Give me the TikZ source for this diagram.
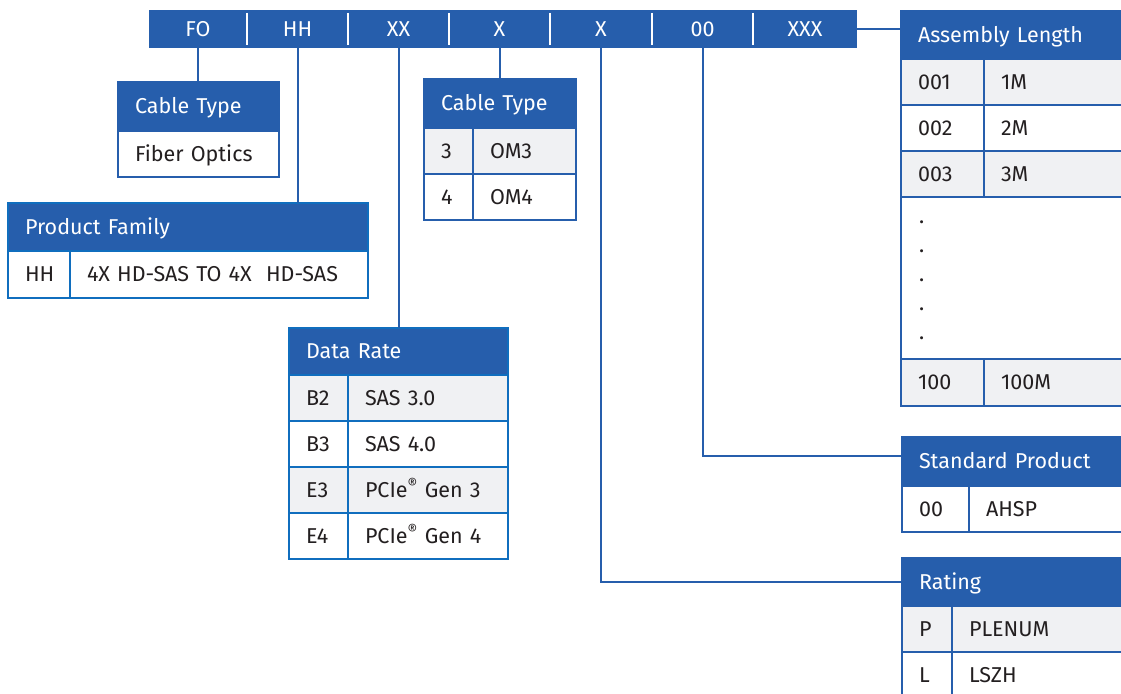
\documentclass[tikz,border=0pt]{standalone}
\usepackage{fontspec}
\setmainfont{Fira Sans}
\usetikzlibrary{positioning}
\definecolor{tblue}{RGB}{38,94,172}
\definecolor{fblue}{RGB}{16,110,190}
\definecolor{rgray}{RGB}{240,241,243}
\definecolor{tdark}{RGB}{35,31,32}
\begin{document}
\begin{tikzpicture}[x=1pt,y=-1pt,font=\fontsize{21.5}{25}\selectfont,text=tdark,
    cd/.style={fill=tblue,text=white,minimum height=38pt,inner sep=0pt,outer sep=0pt,text height=14.5pt,text depth=0pt},
    hd/.style={fill=tblue,draw=tblue,line width=1.5pt,text=white,anchor=north west,minimum height=48pt,inner xsep=17pt,outer sep=0pt,text width=#1,align=left,text height=14.5pt,text depth=0pt},
    kc/.style={draw=tblue,line width=1.5pt,anchor=north west,minimum height=46pt,inner xsep=17pt,outer sep=0pt,text width=#1,align=left,text height=14.5pt,text depth=0pt},
    ln/.style={draw=tblue,line width=2pt}]
    \path[use as bounding box,clip] (0,0) rectangle (1121,693);
    % code bar
    \foreach \xa/\xb/\lab [count=\i] in {149/247/FO,247/348/HH,348/449/XX,449/550/X,550/652/X,652/753/00,753/857/XXX}
        \node[cd,minimum width=\xb-\xa] (c\i) at ({(\xa+\xb)/2},29) {\lab};
    \foreach \i in {1,...,6}
        \draw[white,line width=2pt] ([yshift=-3pt]c\i.north east) -- ([yshift=3pt]c\i.south east);
    % cable type (FO)
    \node[hd=127pt,minimum height=49pt] (ft) at (118,82) {Cable Type};
    \node[kc=127pt,fill=white] (fv) at (ft.south west) {Fiber Optics};
    % product family
    \node[hd=326pt,draw=fblue] (pf) at (8,203) {Product Family};
    \node[kc=28pt,draw=fblue,fill=white,minimum height=47pt] (pk) at (pf.south west) {HH};
    \node[kc=264pt,draw=fblue,fill=white,minimum height=47pt] (pv) at (pk.north east) {4X HD-SAS TO 4X~~HD-SAS};
    % cable type (X)
    \node[hd=118pt,minimum height=49pt,alias=ck0] (ct) at (424,79) {Cable Type};
    \foreach \k/\v/\f [count=\i, remember=\i as \j (initially 0)] in {3/OM3/rgray,4/OM4/white} {
        \node[kc=15pt,fill=\f] (ck\i) at (ck\j.south west) {\k};
        \node[kc=69pt,fill=\f] (cv\i) at (ck\i.north east) {\v};
    }
    % data rate
    \node[hd=185pt,draw=fblue,minimum height=47pt,alias=dk0] (dr) at (289,328) {Data Rate};
    \foreach \k/\v/\f [count=\i, remember=\i as \j (initially 0)] in {B2/SAS 3.0/rgray,B3/SAS 4.0/white,E3/PCIe\textsuperscript{®} Gen 3/rgray,E4/PCIe\textsuperscript{®} Gen 4/white} {
        \node[kc=25pt,draw=fblue,fill=\f] (dk\i) at (dk\j.south west) {\k};
        \node[kc=126pt,draw=fblue,fill=\f] (dv\i) at (dk\i.north east) {\v};
    }
    % assembly length
    \node[hd=206pt,alias=ak0] (al) at (901,11) {Assembly Length};
    \foreach \k/\v/\f [count=\i, remember=\i as \j (initially 0)] in {001/1M/rgray,002/2M/white,003/3M/rgray} {
        \node[kc=49pt,fill=\f] (ak\i) at (ak\j.south west) {\k};
        \node[kc=123pt,fill=\f] (av\i) at (ak\i.north east) {\v};
    }
    \node[kc=206pt,fill=white,minimum height=162pt] (ad) at (ak3.south west) {};
    \foreach \k in {0,...,4}
        \node[anchor=base west,inner sep=0pt] (dt\k) at (919,223+29*\k) {.};
    \node[kc=49pt,fill=rgray,minimum height=47pt] (ak4) at (ad.south west) {100};
    \node[kc=123pt,fill=rgray,minimum height=47pt] (av4) at (ak4.north east) {100M};
    % standard product
    \node[hd=206pt,minimum height=49pt] (sp) at (902,437) {Standard Product};
    \node[kc=33pt,fill=white] (sk) at (sp.south west) {00};
    \node[kc=139pt,fill=white] (sv) at (sk.north east) {AHSP};
    % rating
    \node[hd=206pt,alias=rk0] (rt) at (902,558) {Rating};
    \foreach \k/\v/\f [count=\i, remember=\i as \j (initially 0)] in {P/PLENUM/rgray,L/LSZH/white} {
        \node[kc=16pt,fill=\f] (rk\i) at (rk\j.south west) {\k};
        \node[kc=156pt,fill=\f] (rv\i) at (rk\i.north east) {\v};
    }
    % connectors
    \draw[ln] (c1.south) -- (c1.south |- ft.north);
    \draw[ln] (c2.south) -- (c2.south |- pf.north);
    \draw[ln] (c3.south) -- (c3.south |- dr.north);
    \draw[ln] (c4.south) -- (c4.south |- ct.north);
    \draw[ln] (c5.south) |- (rt.west);
    \draw[ln] (c6.south) |- ([yshift=6pt]sp.west);
    \draw[ln] (c7.east) -- (c7.east -| al.west);
\end{tikzpicture}
\end{document}
